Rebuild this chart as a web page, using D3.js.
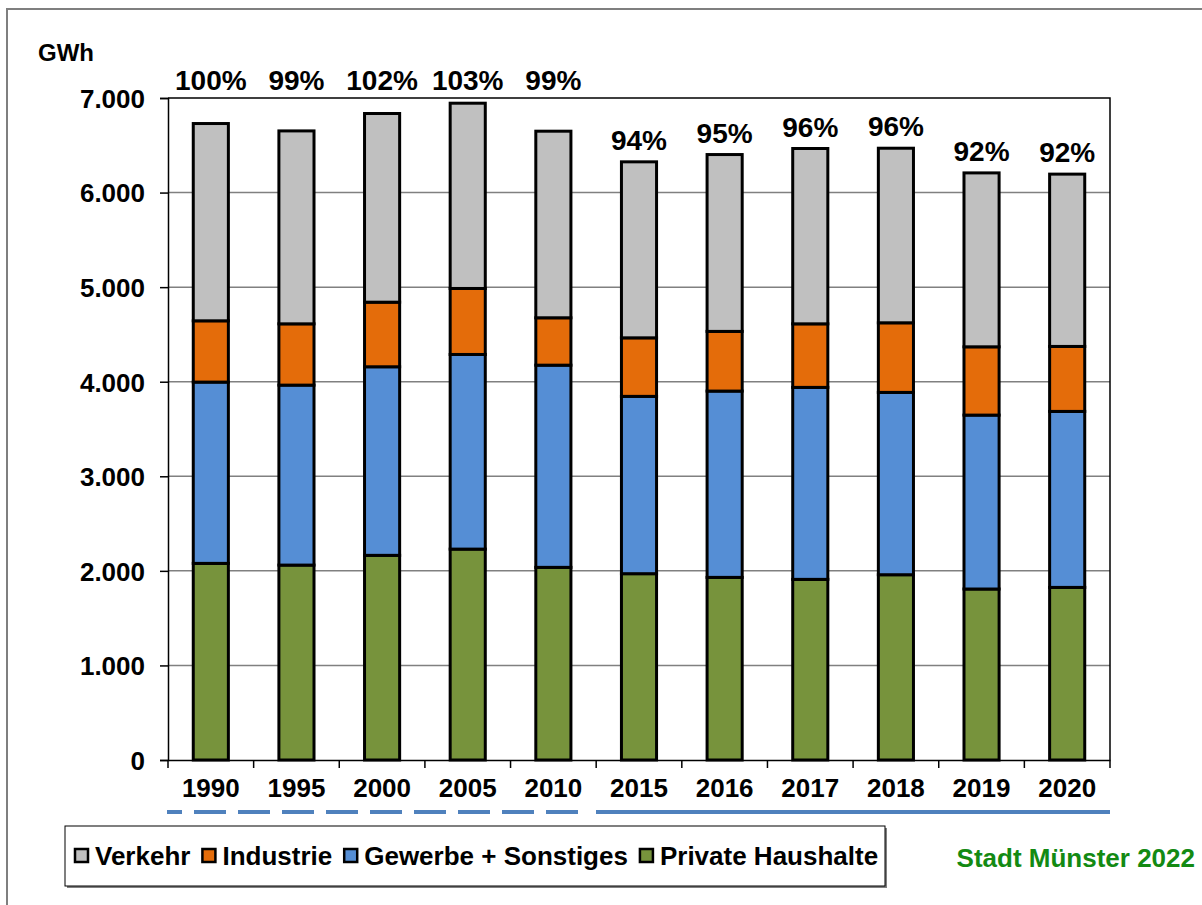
<!DOCTYPE html>
<html><head><meta charset="utf-8">
<script src="https://cdn.jsdelivr.net/npm/d3@7"></script>
<style>
body{margin:0;background:#fff;}
text{font-family:"Liberation Sans",Arial,sans-serif;font-weight:bold;}
</style></head>
<body><svg id="c" width="1202" height="905"></svg>
<script>
const years = ["1990","1995","2000","2005","2010","2015","2016","2017","2018","2019","2020"];
const privateHaushalte = [2079, 2061, 2164, 2230, 2037, 1970, 1931, 1910, 1959, 1808, 1825];
const gewerbe = [1917, 1903, 1994, 2058, 2138, 1875, 1970, 2030, 1928, 1839, 1861];
const industrie = [648, 648, 683, 698, 501, 619, 631, 672, 736, 722, 687];
const verkehr = [2086, 2040, 1995, 1959, 1973, 1861, 1870, 1854, 1846, 1839, 1822];
const percentLabels = ["100%","99%","102%","103%","99%","94%","95%","96%","96%","92%","92%"];
const fiveYearPeriod = ["1990","1995","2000","2005","2010"];
const yTicks = [0,1000,2000,3000,4000,5000,6000,7000];
const seriesNames = ["Private Haushalte","Gewerbe + Sonstiges","Industrie","Verkehr"];
const seriesColors = ["#77933C","#558ED5","#E46C0A","#C0C0C0"];
const legendOrder = ["Verkehr","Industrie","Gewerbe + Sonstiges","Private Haushalte"];

const svg = d3.select("#c");
const L=168, R=1110, T=98, B=760;
const x = d3.scaleBand().domain(years).range([L,R]).padding(0);
const y = d3.scaleLinear().domain([0,7000]).range([B,T]);
const fmt = d => d3.format(",")(d).replace(/,/g,".");

// outer frame
svg.append("path").attr("d","M7,905 V9 H1202").attr("fill","none").attr("stroke","#7f7f7f").attr("stroke-width",2);

// gridlines
svg.append("g").selectAll("line").data(yTicks.filter(v=>v>0 && v<7000)).join("line")
  .attr("x1",L).attr("x2",R).attr("y1",d=>y(d)).attr("y2",d=>y(d))
  .attr("stroke","#808080").attr("stroke-width",1.5);
// plot border top/right
svg.append("path").attr("d",`M${L},${T} H${R} V${B}`).attr("fill","none").attr("stroke","#000").attr("stroke-width",1.5);

// y axis
const yAx = svg.append("g").attr("transform",`translate(${L},0)`)
  .call(d3.axisLeft(y).tickValues(yTicks).tickFormat(fmt).tickSize(8).tickPadding(15));
yAx.select(".domain").attr("stroke","#000").attr("stroke-width",1.5);
yAx.selectAll(".tick line").attr("stroke","#000").attr("stroke-width",1.5);
yAx.selectAll(".tick text").attr("font-size",26).attr("fill","#000")
  .attr("font-family","Liberation Sans, Arial, sans-serif").attr("font-weight","bold").attr("dy","0.36em");

// x axis
const xAx = svg.append("g").attr("transform",`translate(0,${B})`)
  .call(d3.axisBottom(x).tickSize(0).tickPadding(28));
xAx.select(".domain").attr("stroke","#000").attr("stroke-width",1.5);
xAx.selectAll(".tick text").attr("font-size",26).attr("fill","#000")
  .attr("font-family","Liberation Sans, Arial, sans-serif").attr("font-weight","bold").attr("dy","0.36em");
const bounds = years.map(d=>x(d)).concat([R]);
svg.append("g").selectAll("line").data(bounds).join("line")
  .attr("x1",d=>d).attr("x2",d=>d).attr("y1",B).attr("y2",B+8).attr("stroke","#000").attr("stroke-width",1.5);

// stacked bars
const rows = years.map((yr,i)=>({year:yr,"Private Haushalte":privateHaushalte[i],"Gewerbe + Sonstiges":gewerbe[i],"Industrie":industrie[i],"Verkehr":verkehr[i]}));
const stack = d3.stack().keys(seriesNames)(rows);
const bw = x.bandwidth()*0.41;
const color = d3.scaleOrdinal().domain(seriesNames).range(seriesColors);
svg.append("g").selectAll("g").data(stack).join("g").attr("fill",d=>color(d.key))
  .selectAll("rect").data(d=>d).join("rect")
  .attr("x",d=>x(d.data.year)+x.bandwidth()/2-bw/2).attr("width",bw)
  .attr("y",d=>y(d[1])).attr("height",d=>y(d[0])-y(d[1]))
  .attr("stroke","#000").attr("stroke-width",3);

// percent labels
const totals = years.map((yr,i)=>privateHaushalte[i]+gewerbe[i]+industrie[i]+verkehr[i]);
svg.append("g").selectAll("text").data(years).join("text")
  .attr("x",d=>x(d)+x.bandwidth()/2)
  .attr("y",(d,i)=>fiveYearPeriod.includes(d) ? y(7000)-8 : y(totals[i])-12)
  .attr("text-anchor","middle").attr("font-size",28).attr("fill","#000").text((d,i)=>percentLabels[i]);

// GWh
svg.append("text").attr("x",38).attr("y",61).attr("font-size",24).text("GWh");

// period lines under axis
svg.append("line").attr("x1",167).attr("x2",582).attr("y1",812).attr("y2",812)
  .attr("stroke","#4F81BD").attr("stroke-width",4).attr("stroke-dasharray","32,12").attr("stroke-dashoffset",17);
svg.append("line").attr("x1",596).attr("x2",R).attr("y1",812).attr("y2",812)
  .attr("stroke","#4F81BD").attr("stroke-width",4);

// legend
svg.append("rect").attr("x",67).attr("y",828).attr("width",820).attr("height",60).attr("fill","#808080");
svg.append("rect").attr("x",65).attr("y",826).attr("width",820).attr("height",60).attr("fill","#fff").attr("stroke","#000").attr("stroke-width",1);
let lx = 75;
const lg = svg.append("g");
legendOrder.forEach(name=>{
  lg.append("rect").attr("x",lx).attr("y",849).attr("width",13).attr("height",13)
    .attr("fill",color(name)).attr("stroke","#000").attr("stroke-width",2.5);
  const t = lg.append("text").attr("x",lx+20).attr("y",865).attr("font-size",26).text(name);
  lx += 20 + t.node().getComputedTextLength() + 12;
});

// source
svg.append("text").attr("x",1195).attr("y",867).attr("text-anchor","end").attr("font-size",26)
  .attr("fill","#138A13").text("Stadt Münster 2022");
</script></body></html>
